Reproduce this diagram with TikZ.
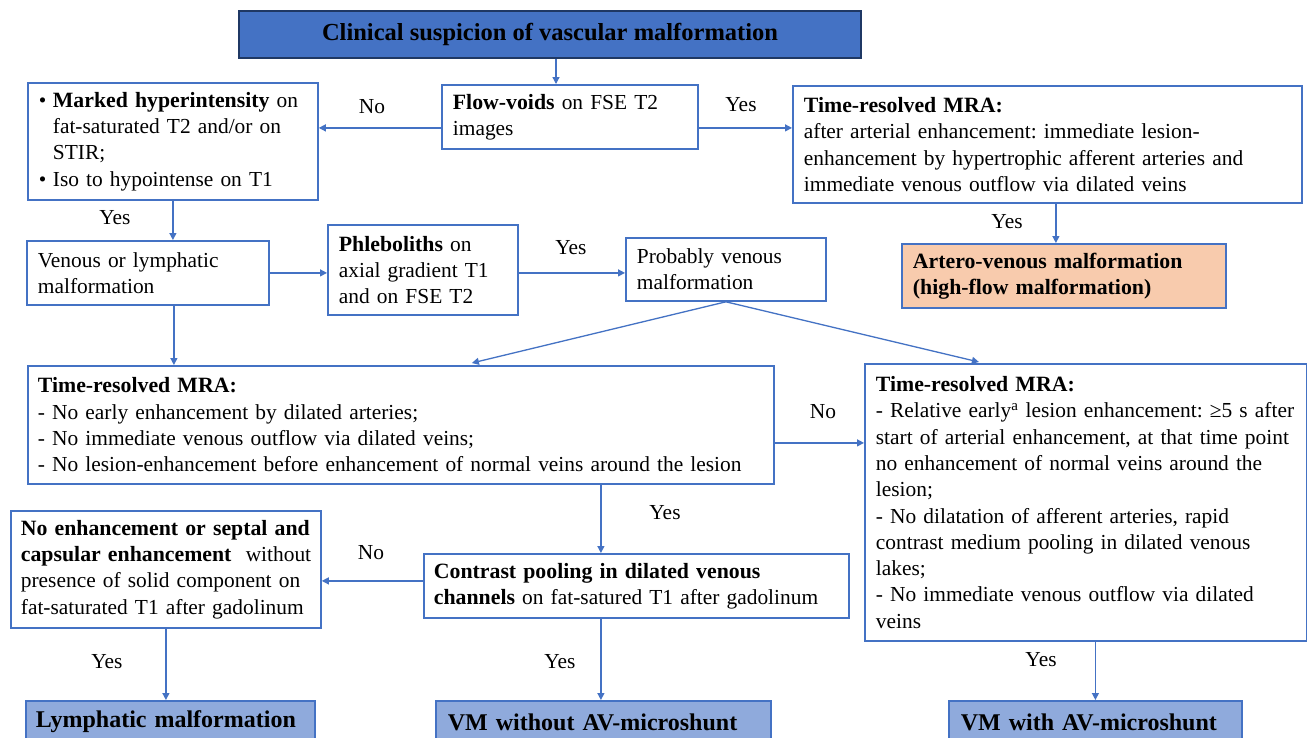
\documentclass[tikz,border=0pt]{standalone}
\usepackage{fontspec}
\setmainfont{Liberation Serif}
\usetikzlibrary{arrows.meta}
\definecolor{bc}{HTML}{4472C4}
\definecolor{titlefill}{HTML}{4472C4}
\definecolor{titleborder}{HTML}{1F3864}
\definecolor{avmfill}{HTML}{F8CBAD}
\definecolor{endfill}{HTML}{8FAADC}
\newcommand\bodyfont{\fontsize{21.4}{26.3}\selectfont\frenchspacing}
\newcommand\bb[1]{{\fontsize{21.8}{26.3}\selectfont\bfseries #1}}
\begin{document}
\begin{tikzpicture}[x=1pt,y=-1pt,
  box/.style={draw=bc, line width=1.8pt, fill=white, inner xsep=11pt, inner ysep=0pt,
    align=left, anchor=north west, font=\bodyfont},
  endbox/.style={box, fill=endfill, font=\fontsize{24}{28}\selectfont\bfseries},
  arr/.style={draw=bc, line width=1.3pt, -{Triangle[length=7pt,width=7pt]}},
  lbl/.style={font=\bodyfont, inner sep=0pt}]
\useasboundingbox (0,0) rectangle (1307,737);
\clip (0,0) rectangle (1307,737);
\fill[white] (0,0) rectangle (1307,737);

\node[draw=titleborder, line width=2pt, fill=titlefill, anchor=north west,
  minimum width=622pt, minimum height=47pt, inner sep=0pt,
  font=\fontsize{24.5}{28}\selectfont\bfseries] (title) at (238,10)
  {Clinical suspicion of vascular malformation};

\node[box, text width=234pt, minimum height=64pt] (flow) at (441,84)
  {\mbox{\bb{Flow-voids} on FSE T2}\\\mbox{images}};

\node[box, text width=268pt, minimum height=117pt] (marked) at (27,82)
  {\mbox{\makebox[14pt][l]{•}\bb{Marked hyperintensity} on}\\
   \mbox{\hspace*{14pt}fat-saturated T2 and/or on}\\
   \mbox{\hspace*{14pt}STIR;}\\
   \mbox{\makebox[14pt][l]{•}Iso to hypointense on T1}};

\node[box, text width=487pt, minimum height=117pt] (mra1) at (792,85)
  {\mbox{\bb{Time-resolved MRA:}}\\
   \mbox{after arterial enhancement: immediate lesion-}\\
   \mbox{enhancement by hypertrophic afferent arteries and}\\
   \mbox{immediate venous outflow via dilated veins}};

\node[box, fill=avmfill, text width=302pt, minimum height=64pt] (avm) at (901,243)
  {\mbox{\bb{Artero-venous malformation}}\\\mbox{\bb{(high-flow malformation)}}};

\node[box, text width=220pt, minimum height=64pt] (venlym) at (26,240)
  {\mbox{Venous or lymphatic}\\\mbox{malformation}};

\node[box, text width=168pt, minimum height=90pt] (phleb) at (327,224)
  {\mbox{\bb{Phleboliths} on}\\\mbox{axial gradient T1}\\\mbox{and on FSE T2}};

\node[box, text width=178pt, minimum height=63pt] (prob) at (625,237)
  {\mbox{Probably venous}\\\mbox{malformation}};

\node[box, text width=726pt, minimum height=118pt, inner xsep=10pt] (mra2) at (27,365)
  {\mbox{\bb{Time-resolved MRA:}}\\
   \mbox{- No early enhancement by dilated arteries;}\\
   \mbox{- No immediate venous outflow via dilated veins;}\\
   \mbox{- No lesion-enhancement before enhancement of normal veins around the lesion}};

\node[box, text width=420pt, minimum height=277pt] (mra3) at (864,363)
  {\mbox{\bb{Time-resolved MRA:}}\\
   \mbox{- Relative early\textsuperscript{a} lesion enhancement: ≥5 s after}\\
   \mbox{start of arterial enhancement, at that time point}\\
   \mbox{no enhancement of normal veins around the}\\
   \mbox{lesion;}\\
   \mbox{- No dilatation of afferent arteries, rapid}\\
   \mbox{contrast medium pooling in dilated venous}\\
   \mbox{lakes;}\\
   \mbox{- No immediate venous outflow via dilated}\\
   \mbox{veins}};

\node[box, text width=290pt, minimum height=117pt, inner xsep=10pt] (noenh) at (10,510)
  {\mbox{\bb{No enhancement or septal and}}\\
   \mbox{\bb{capsular enhancement}\ \ without}\\
   \mbox{presence of solid component on}\\
   \mbox{fat-saturated T1 after gadolinum}};

\node[box, text width=405pt, minimum height=64pt, inner xsep=10pt] (pool) at (423,553)
  {\mbox{\bb{Contrast pooling in dilated venous}}\\
   \mbox{\bb{channels} on fat-satured T1 after gadolinum}};

\node[endbox, text width=269pt, minimum height=42pt, inner xsep=10pt] (lymph) at (25,700)
  {\mbox{Lymphatic malformation}};
\node[endbox, text width=311pt, minimum height=42pt, inner xsep=12pt] (vmwo) at (435,700)
  {\mbox{VM without AV-microshunt}};
\node[endbox, text width=269pt, minimum height=42pt, inner xsep=12pt] (vmw) at (948,700)
  {\mbox{VM with AV-microshunt}};

% connectors
\draw[arr] ([xshift=6pt]title.south) -- ([xshift=6pt]title.south |- flow.north);
\draw[arr] ([yshift=-11pt]flow.west) -- ([yshift=-11pt]flow.west -| marked.east);
\draw[arr] ([yshift=-11pt]flow.east) -- ([yshift=-11pt]flow.east -| mra1.west);
\draw[arr] (marked.south) -- (marked.south |- venlym.north);
\draw[arr] ([xshift=8.5pt]mra1.south) -- ([xshift=8.5pt]mra1.south |- avm.north);
\draw[arr] (venlym.east) -- (venlym.east -| phleb.west);
\draw[arr] ([yshift=-3pt]phleb.east) -- ([yshift=-3pt]phleb.east -| prob.west);
\draw[arr] (prob.south) -- ([xshift=71pt,yshift=2pt]mra2.north);
\draw[arr] (prob.south) -- ([xshift=-107pt,yshift=1pt]mra3.north);
\draw[arr] ([xshift=26pt]venlym.south) -- ([xshift=26pt]venlym.south |- mra2.north);
\draw[arr] ([yshift=-18pt]mra2.east) -- ([yshift=-18pt]mra2.east -| mra3.west);
\draw[arr] ([xshift=200pt]mra2.south) -- ([xshift=200pt]mra2.south |- pool.north);
\draw[arr] ([yshift=5pt]pool.west) -- ([yshift=5pt]pool.west -| noenh.east);
\draw[arr] (noenh.south) -- (noenh.south |- lymph.north);
\draw[arr] ([xshift=200pt]mra2.south |- pool.south) -- ([xshift=200pt]mra2.south |- vmwo.north);
\draw[arr] (vmw.north |- mra3.south) -- (vmw.north);

% labels
\node[lbl] (l1) at (372,107) {No};
\node[lbl] (l2) at (741,105) {Yes};
\node[lbl] (l3) at (115,218) {Yes};
\node[lbl] (l4) at (1007,222) {Yes};
\node[lbl] (l5) at (571,248) {Yes};
\node[lbl] (l6) at (823,412) {No};
\node[lbl] (l7) at (665,513) {Yes};
\node[lbl] (l8) at (371,553) {No};
\node[lbl] (l9) at (107,662) {Yes};
\node[lbl] (l10) at (560,662) {Yes};
\node[lbl] (l11) at (1041,660) {Yes};
\end{tikzpicture}
\end{document}
